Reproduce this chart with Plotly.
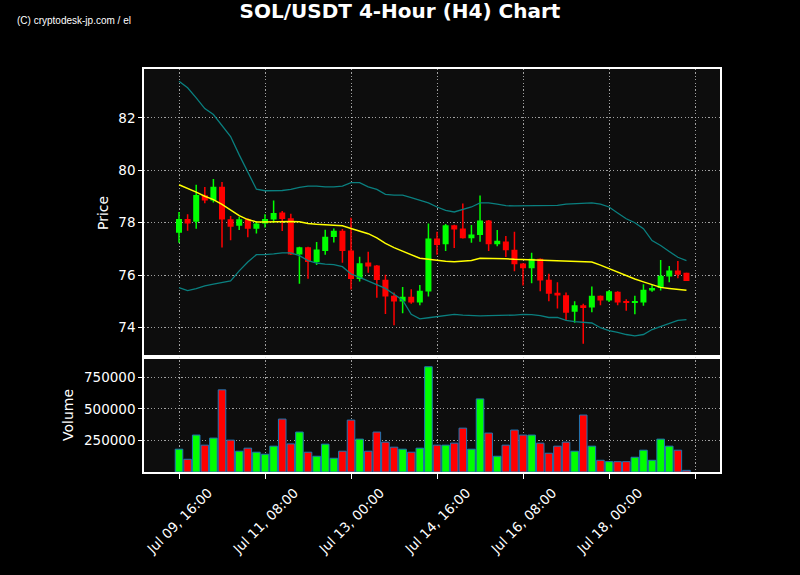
import plotly.graph_objects as go

# ---- data ----
opens = [77.62, 78.14, 78.04, 79.05, 78.85, 79.37, 78.13, 77.88, 78.13, 77.77,
         77.97, 78.12, 78.39, 78.17, 76.79, 77.06, 76.50, 76.92, 77.45, 77.69,
         76.94, 75.85, 76.48, 76.37, 75.82, 75.21, 74.99, 75.17, 74.95, 75.37,
         77.40, 77.18, 77.90, 77.78, 77.41, 77.53, 78.08, 77.18, 77.28, 76.97,
         76.44, 76.26, 76.62, 75.82, 75.32, 75.23, 74.60, 74.85, 74.76, 75.21,
         75.03, 75.36, 75.00, 74.95, 74.95, 75.41, 75.51, 75.95, 76.17, 76.09]
highs = [78.41, 78.32, 79.45, 79.36, 79.67, 79.55, 78.26, 78.23, 78.17, 78.06,
         78.32, 78.85, 78.45, 78.34, 77.08, 77.08, 77.26, 77.73, 77.78, 77.76,
         78.19, 76.70, 76.89, 76.38, 76.01, 75.33, 75.54, 75.46, 75.62, 77.97,
         77.65, 77.95, 77.92, 78.73, 77.91, 79.04, 78.10, 77.72, 77.49, 77.65,
         76.45, 76.85, 76.63, 76.05, 75.73, 75.33, 75.00, 74.90, 75.56, 75.22,
         75.42, 75.38, 75.08, 75.21, 75.65, 75.62, 76.58, 76.35, 76.54, 76.09]
lows = [77.23, 77.69, 77.77, 78.74, 78.77, 77.05, 77.33, 77.72, 77.44, 77.59,
        77.82, 78.00, 77.68, 76.77, 75.67, 75.86, 76.38, 76.78, 77.24, 76.47,
        75.45, 75.75, 76.09, 75.13, 74.51, 74.08, 74.54, 74.90, 74.85, 75.18,
        76.78, 76.92, 77.03, 77.40, 77.23, 77.27, 76.92, 77.10, 76.69, 76.15,
        75.60, 75.69, 75.38, 75.00, 74.72, 74.28, 74.18, 73.38, 74.58, 74.85,
        74.97, 74.85, 74.64, 74.50, 74.83, 75.36, 75.41, 75.73, 75.88, 75.77]
closes = [78.14, 77.97, 79.06, 78.85, 79.37, 78.12, 77.85, 78.13, 77.77, 77.97,
          78.14, 78.37, 78.14, 76.79, 77.06, 76.50, 76.98, 77.46, 77.69, 76.92,
          75.85, 76.45, 76.33, 75.81, 75.18, 74.99, 75.17, 74.95, 75.40, 77.40,
          77.15, 77.90, 77.74, 77.41, 77.55, 78.08, 77.18, 77.31, 76.95, 76.41,
          76.26, 76.62, 75.79, 75.29, 75.22, 74.56, 74.85, 74.74, 75.21, 75.03,
          75.38, 74.95, 74.96, 74.99, 75.44, 75.51, 75.97, 76.17, 76.01, 75.77]
volumes = [181000, 101000, 293000, 213000, 269000, 652000, 253000, 165000, 189000, 157000,
           141000, 205000, 420000, 223000, 317000, 157000, 125000, 221000, 109000, 165000,
           412000, 261000, 165000, 317000, 237000, 197000, 181000, 157000, 189000, 835000,
           213000, 213000, 229000, 348000, 181000, 580000, 309000, 125000, 213000, 333000,
           293000, 293000, 229000, 149000, 205000, 237000, 165000, 452000, 205000, 93000,
           82000, 82000, 82000, 117000, 173000, 93000, 261000, 205000, 173000, 13000]
bb_mid = [79.45, 79.32, 79.17, 79.01, 78.88, 78.70, 78.47, 78.27, 78.12, 78.03,
          78.03, 78.04, 78.05, 78.05, 78.04, 77.97, 77.94, 77.92, 77.91, 77.88,
          77.78, 77.69, 77.58, 77.42, 77.21, 77.05, 76.92, 76.76, 76.64, 76.60,
          76.56, 76.53, 76.51, 76.54, 76.56, 76.64, 76.64, 76.64, 76.62, 76.60,
          76.59, 76.58, 76.57, 76.56, 76.55, 76.53, 76.53, 76.52, 76.50, 76.38,
          76.24, 76.10, 75.96, 75.85, 75.74, 75.62, 75.53, 75.49, 75.45, 75.42]
bb_upper = [83.40, 83.15, 82.77, 82.36, 82.13, 81.72, 81.29, 80.59, 79.91, 79.28,
            79.22, 79.22, 79.23, 79.27, 79.35, 79.40, 79.40, 79.37, 79.37, 79.40,
            79.53, 79.53, 79.37, 79.27, 79.08, 79.05, 79.05, 78.96, 78.86, 78.76,
            78.60, 78.47, 78.41, 78.51, 78.60, 78.76, 78.76, 78.71, 78.65, 78.64,
            78.64, 78.64, 78.64, 78.65, 78.66, 78.71, 78.73, 78.76, 78.76, 78.71,
            78.60, 78.37, 78.15, 78.00, 77.77, 77.32, 77.13, 76.90, 76.68, 76.55]
bb_lower = [75.52, 75.41, 75.48, 75.59, 75.65, 75.71, 75.78, 76.16, 76.50, 76.78,
            76.78, 76.81, 76.85, 76.85, 76.74, 76.55, 76.46, 76.42, 76.40, 76.32,
            76.04, 75.91, 75.78, 75.65, 75.49, 75.27, 75.04, 74.50, 74.33, 74.37,
            74.42, 74.47, 74.50, 74.47, 74.45, 74.44, 74.45, 74.45, 74.46, 74.47,
            74.50, 74.49, 74.45, 74.38, 74.38, 74.27, 74.22, 74.19, 74.17, 73.99,
            73.88, 73.81, 73.73, 73.68, 73.73, 73.92, 74.04, 74.18, 74.27, 74.30]
tick_positions = [0, 10, 20, 30, 40, 50, 60]
tick_labels = ["Jul 09, 16:00", "Jul 11, 08:00", "Jul 13, 00:00", "Jul 14, 16:00",
               "Jul 16, 08:00", "Jul 18, 00:00", ""]

GREEN = "#00ff00"
RED = "#ff0000"

idx = list(range(len(opens)))
up = [c >= o for o, c in zip(opens, closes)]

fig = go.Figure()

# wicks
for flag, col in ((True, GREEN), (False, RED)):
    wx, wy = [], []
    for i in idx:
        if up[i] == flag:
            wx += [i, i, None]
            wy += [lows[i], highs[i], None]
    fig.add_trace(go.Scatter(x=wx, y=wy, mode="lines", line=dict(color=col, width=1.5),
                             hoverinfo="skip", showlegend=False, xaxis="x", yaxis="y"))

# bodies
for flag, col in ((True, GREEN), (False, RED)):
    bx = [i for i in idx if up[i] == flag]
    base = [min(opens[i], closes[i]) for i in bx]
    h = [max(abs(closes[i] - opens[i]), 0.03) for i in bx]
    fig.add_trace(go.Bar(x=bx, y=h, base=base, width=0.7, marker=dict(color=col, line=dict(width=0)),
                         showlegend=False, xaxis="x", yaxis="y"))

# Bollinger bands
fig.add_trace(go.Scatter(x=idx, y=bb_upper, mode="lines", line=dict(color="#0a7f7f", width=1.3),
                         showlegend=False, xaxis="x", yaxis="y"))
fig.add_trace(go.Scatter(x=idx, y=bb_lower, mode="lines", line=dict(color="#0a7f7f", width=1.3),
                         showlegend=False, xaxis="x", yaxis="y"))
fig.add_trace(go.Scatter(x=idx, y=bb_mid, mode="lines", line=dict(color="#ffff00", width=1.5),
                         showlegend=False, xaxis="x", yaxis="y"))

# volume
fig.add_trace(go.Bar(x=idx, y=volumes, width=0.88,
                     marker=dict(color=[GREEN if u else RED for u in up],
                                 line=dict(color="#1f77b4", width=1)),
                     showlegend=False, xaxis="x2", yaxis="y2"))

grid = dict(showgrid=True, gridcolor="rgba(210,210,210,0.75)", griddash="1.2px,2.2px", gridwidth=1)
frame = dict(showline=True, linecolor="white", linewidth=1.5, mirror=True, zeroline=False)
tickfont = dict(family="DejaVu Sans", size=13.5, color="white")

xr = [-4.07, 62.9]

annotations = [
    dict(text="(C) cryptodesk-jp.com / el", x=(15 - 144) / 576, y=(472 - 21) / 403,
         xref="paper", yref="paper", xanchor="left", yanchor="middle", showarrow=False,
         font=dict(family="Liberation Sans Narrow, Liberation Sans", size=10, color="white")),
    dict(text="Price", x=(103 - 144) / 576, y=(472 - 213) / 403, xref="paper", yref="paper",
         textangle=-90, showarrow=False, xanchor="center", yanchor="middle",
         font=dict(family="DejaVu Sans", size=14, color="white")),
    dict(text="Volume", x=(68 - 144) / 576, y=(472 - 415) / 403, xref="paper", yref="paper",
         textangle=-90, showarrow=False, xanchor="center", yanchor="middle",
         font=dict(family="DejaVu Sans", size=14, color="white")),
]
# centred, rotated date labels under the volume panel
for pos, lab in zip(tick_positions, tick_labels):
    if lab:
        annotations.append(dict(text=lab, x=pos, xref="x2", y=(472 - 482) / 403, yref="paper",
                                textangle=-45, showarrow=False, xanchor="center", yanchor="top",
                                font=tickfont))

fig.update_layout(
    width=800, height=575,
    paper_bgcolor="#000000", plot_bgcolor="#0d0d0d",
    margin=dict(l=144, r=80, t=69, b=103),
    barmode="overlay",
    font=dict(family="DejaVu Sans", color="white"),
    title=dict(text="<b>SOL/USDT 4-Hour (H4) Chart</b>", x=0.5, xref="container",
               y=1 - 11 / 575, yref="container", xanchor="center", yanchor="middle",
               font=dict(family="DejaVu Sans", size=20, color="white")),
    xaxis=dict(domain=[0, 1], range=xr, anchor="y", tickvals=tick_positions,
               showticklabels=False, ticks="", **grid, **frame),
    yaxis=dict(domain=[0.2866, 1], range=[72.89, 83.87], tickvals=[74, 76, 78, 80, 82],
               ticks="outside", ticklen=4, tickcolor="white", tickfont=tickfont, **grid, **frame),
    xaxis2=dict(domain=[0, 1], range=xr, anchor="y2", matches="x", tickvals=tick_positions,
                showticklabels=False, ticks="outside", ticklen=5, tickcolor="white", **grid, **frame),
    yaxis2=dict(domain=[0, 0.2854], range=[0, 912700], tickvals=[250000, 500000, 750000],
                ticktext=["250000", "500000", "750000"],
                ticks="outside", ticklen=4, tickcolor="white", tickfont=tickfont, **grid, **frame),
    annotations=annotations,
)

fig.write_html("out.html", config={"displayModeBar": False},
               post_script="document.body.style.margin='0';")
